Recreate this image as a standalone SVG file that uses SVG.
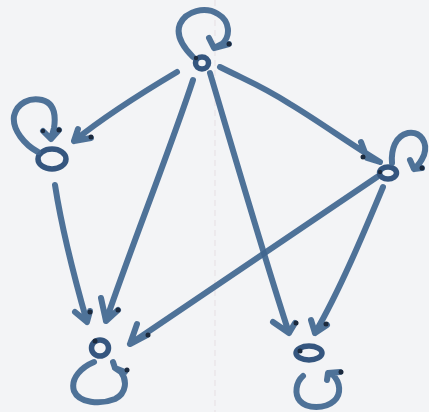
<svg xmlns="http://www.w3.org/2000/svg" width="429" height="412" viewBox="0 0 429 412">
<defs>
<style>
.ink{fill:none;stroke:#41668f;stroke-width:6;stroke-linecap:round;stroke-linejoin:round;opacity:0.92}
.ring{fill:none;stroke:#35577f;stroke-width:5.5}
.dot{fill:#1c2a3d}
</style>
<filter id="soft" x="-5%" y="-5%" width="110%" height="110%"><feGaussianBlur stdDeviation="0.6"/></filter>
</defs>
<rect width="429" height="412" fill="#f3f4f6"/>
<line x1="215" y1="0" x2="215" y2="412" stroke="#e6dfe3" stroke-width="1" stroke-dasharray="6 4"/>
<g filter="url(#soft)">
<g id="connectors">
<!-- top -> left -->
<path class="ink" d="M177,72 C150,88 110,112 74,141 M78,129 L74,141 L91,138"/>
<circle class="dot" cx="91" cy="137" r="2.5"/>
<!-- top -> right -->
<path class="ink" d="M220,67 C250,82 262,86 290,104 C320,122 350,144 380,162 M361,142 L367,158 L380,162"/>
<circle class="dot" cx="363" cy="157" r="2.5"/>
<!-- top -> bottom-left -->
<path class="ink" d="M193,80 C170,150 130,250 106,321 M101,298 L106,321 L118,310"/>
<circle class="dot" cx="118" cy="310" r="2.5"/>
<!-- top -> bottom-right -->
<path class="ink" d="M210,73 C230,140 265,260 289,333 M273,322 L289,333 L295,323"/>
<circle class="dot" cx="296" cy="323" r="2.5"/>
<!-- left -> bottom-left -->
<path class="ink" d="M55,185 C62,230 75,280 87,322 M75,312 L87,322 L90,311"/>
<circle class="dot" cx="90" cy="312" r="2.5"/>
<!-- right -> bottom-left -->
<path class="ink" d="M377,177 L130,344 M137,324 L130,344 L147,335"/>
<circle class="dot" cx="148" cy="335" r="2.5"/>
<!-- right -> bottom-right -->
<path class="ink" d="M383,187 C365,230 340,290 315,333 M311,320 L315,333 L327,325"/>
<circle class="dot" cx="326" cy="324" r="2.5"/>
</g>
<g id="node-top">
<ellipse class="ring" cx="202" cy="63" rx="6.5" ry="6"/>
<path class="ink" d="M193,57 C184,48 175,36 180,24 C186,11 205,6 218,14 C230,21 231,36 222,44 L214,48 M209,38 L214,48 L229,44"/>
<circle class="dot" cx="229" cy="44" r="2.5"/>
<circle class="dot" cx="196" cy="58" r="2.2"/>
</g>
<g id="node-left">
<ellipse class="ring" cx="52" cy="159" rx="14" ry="10"/>
<path class="ink" d="M38,152 C25,145 12,130 14,116 C17,103 30,97 42,100 C54,103 56,115 54,128 L51,139 M43,131 L51,139 L59,130"/>
<circle class="dot" cx="59" cy="130" r="2.5"/>
<circle class="dot" cx="43" cy="131" r="2.2"/>
</g>
<g id="node-right">
<ellipse class="ring" cx="388" cy="173" rx="8.5" ry="6"/>
<path class="ink" d="M392,163 C391,150 395,136 408,133 C421,131 428,143 424,155 C421,162 418,166 414,169 M410,160 L414,169 L422,168"/>
<circle class="dot" cx="422" cy="168" r="2.5"/>
<circle class="dot" cx="380" cy="172" r="2.2"/>
</g>
<g id="node-bottom-left">
<ellipse class="ring" cx="100" cy="348" rx="8.5" ry="8"/>
<path class="ink" d="M94,362 C82,367 70,378 74,391 C79,403 100,405 115,399 C127,393 127,380 121,372 L115,368 M113,362 L115,368 L125,372"/>
<circle class="dot" cx="127" cy="370" r="2.5"/>
<circle class="dot" cx="95" cy="341" r="2.5"/>
</g>
<g id="node-bottom-right">
<ellipse class="ring" cx="309" cy="353" rx="13" ry="7"/>
<path class="ink" d="M303,376 C296,382 294,394 300,401 C307,409 325,409 334,401 C342,394 340,382 333,375 L328,373 M327,380 L328,373 L340,372"/>
<circle class="dot" cx="341" cy="372" r="2.5"/>
<circle class="dot" cx="300" cy="351" r="2.5"/>
</g>
</g>
</svg>
